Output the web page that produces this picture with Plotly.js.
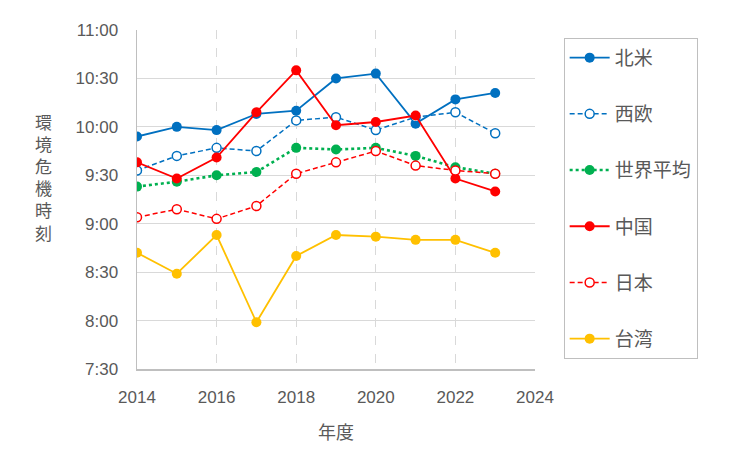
<!DOCTYPE html>
<html>
<head>
<meta charset="utf-8">
<script src="https://cdn.plot.ly/plotly-3.0.1.min.js"></script>
<style>
  body { margin: 0; background: #fff; }
  #chart { width: 731px; height: 465px; }
</style>
</head>
<body>
<div id="chart"></div>
<script>
// years and times (minutes after midnight)
var years = [2014, 2015, 2016, 2017, 2018, 2019, 2020, 2021, 2022, 2023];
var northAmerica = [594, 600, 598, 608, 610, 630, 633, 602, 617, 621];
var westEurope   = [573, 582, 587, 585, 604, 606, 598, 606, 609, 596];
var worldAvg     = [563, 566, 570, 572, 587, 586, 587, 582, 575, 571];
var china        = [578, 568, 581, 609, 635, 601, 603, 607, 568, 560];
var japan        = [544, 549, 543, 551, 571, 578, 585, 576, 573, 571];
var taiwan       = [522, 509, 533, 479, 520, 533, 532, 530, 530, 522];

var tickVals = [450, 480, 510, 540, 570, 600, 630, 660];
var tickText = ['7:30', '8:00', '8:30', '9:00', '9:30', '10:00', '10:30', '11:00'];

var fontFam = '"Liberation Sans", "Noto Sans CJK JP", sans-serif';

function series(name, y, color, dash, open, width) {
  return {
    x: years, y: y, name: name, type: 'scatter', mode: 'lines+markers',
    legendgroup: name,
    line: { color: color, width: width, dash: dash },
    marker: {
      size: open ? 9 : 10,
      color: open ? '#ffffff' : color,
      line: { color: color, width: open ? 1.5 : 0 }
    }
  };
}

var data = [
  series('北米', northAmerica, '#0070C0', 'solid', false, 1.8),
  series('西欧', westEurope, '#0070C0', '5px,3px', true, 1.5),
  series('世界平均', worldAvg, '#00B050', 'dot', false, 2.6),
  series('中国', china, '#FF0000', 'solid', false, 1.8),
  series('日本', japan, '#FF0000', '5px,3px', true, 1.5),
  series('台湾', taiwan, '#FFC000', 'solid', false, 1.8)
];

var layout = {
  width: 731, height: 465,
  margin: { l: 137, r: 196, t: 30, b: 96 },
  paper_bgcolor: '#ffffff', plot_bgcolor: '#ffffff',
  font: { family: fontFam, size: 17, color: '#595959' },
  showlegend: true,
  xaxis: {
    range: [2014, 2024], tickvals: [2014, 2016, 2018, 2020, 2022, 2024],
    showgrid: true, gridcolor: '#d9d9d9', griddash: 'dash', gridwidth: 1,
    showline: true, linecolor: '#bfbfbf', linewidth: 1.5,
    zeroline: false, ticks: 'outside', ticklen: 12, tickcolor: 'rgba(0,0,0,0)',
    tickfont: { size: 17, color: '#595959' },
    title: { text: '年度', font: { size: 18, color: '#595959' }, standoff: 20 }
  },
  yaxis: {
    range: [450, 660], tickvals: tickVals, ticktext: tickText,
    showgrid: true, gridcolor: '#d9d9d9', gridwidth: 1.2,
    showline: true, linecolor: '#bfbfbf', linewidth: 1.5,
    zeroline: false, ticks: 'outside', ticklen: 14, tickcolor: 'rgba(0,0,0,0)',
    tickfont: { size: 17, color: '#595959' }
  },
  legend: {
    x: 1.072, xanchor: 'left', y: 0.977, yanchor: 'top',
    bordercolor: '#bfbfbf', borderwidth: 1, bgcolor: '#ffffff',
    font: { size: 19, color: '#595959' },
    tracegroupgap: 28.5, itemwidth: 40
  },
  annotations: [{
    text: '環<br>境<br>危<br>機<br>時<br>刻',
    xref: 'paper', yref: 'paper', x: -0.236, y: 0.56,
    xanchor: 'center', yanchor: 'middle', showarrow: false,
    font: { size: 17, color: '#595959' }
  }]
};

Plotly.newPlot('chart', data, layout, { displayModeBar: false, staticPlot: true });
</script>
</body>
</html>
